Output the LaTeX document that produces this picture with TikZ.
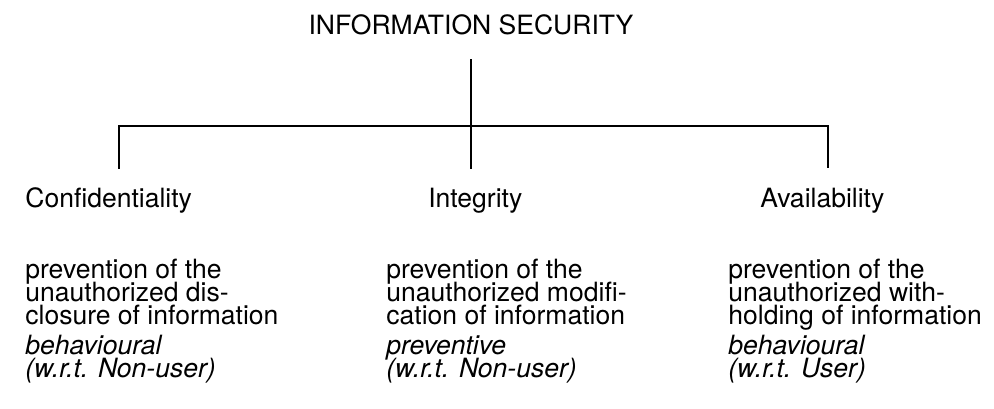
\documentclass[tikz,border=0pt]{standalone}
\usepackage{fontspec}
\setmainfont{TeX Gyre Heros}

% keep the line pitch fixed, whatever the ascenders and descenders
\newcommand{\tightlines}{\lineskiplimit=-20pt\relax}

\begin{document}
		\begin{tikzpicture}[
				link/.style={line width=1.4pt},
				head/.style={inner sep=0pt, anchor=base west, font=\fontsize{15.1}{13.3}\selectfont\tightlines},
				body/.style={head, align=left},
				kind/.style={body, font=\fontsize{15.1}{13.5}\selectfont\tightlines\itshape}
			]
			\useasboundingbox (0,0) rectangle (19.88,8.18);

			\node [head, anchor=base, outer sep=0.48cm] (title) at (9.42,7.48) {INFORMATION SECURITY};

			% tree: one stem, a bar and three drops
			\coordinate (barL) at (2.38,5.66);
			\coordinate (hub) at (9.42,5.66);
			\coordinate (barR) at (16.56,5.66);
			\coordinate (dropL) at (2.38,4.80);
			\coordinate (dropM) at (9.42,4.80);
			\coordinate (dropR) at (16.56,4.82);

			\draw [link] (title.south) -- (hub) -- (dropM);
			\draw [link] (dropL) -- (barL) -- (barR) -- (dropR);

			\node [head] (conf) at (0.50,4.02) {Confidentiality};
			\node [head] (integ) at (8.56,4.02) {Integrity};
			\node [head] (avail) at (15.20,4.02) {Availability};

			% base of a multi-line node is its last line
			\node [body] (confdef) at (0.50,1.68) {prevention of the\\unauthorized dis-\\closure of information};
			\node [body] (integdef) at (7.72,1.68) {prevention of the\\unauthorized modifi-\\cation of information};
			\node [body] (availdef) at (14.56,1.68) {prevention of the\\unauthorized with-\\holding of information};

			\node [kind] (confkind) at (0.50,0.62) {behavioural\\(w.r.t. Non-user)};
			\node [kind] (integkind) at (7.72,0.62) {preventive\\(w.r.t. Non-user)};
			\node [kind] (availkind) at (14.56,0.62) {behavioural\\(w.r.t. User)};
		\end{tikzpicture}
\end{document}
